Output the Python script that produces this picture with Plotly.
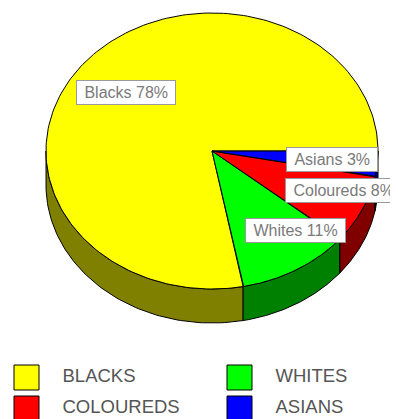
import numpy as np
import plotly.graph_objects as go

# ---- data ----
categories = ["Blacks", "Whites", "Coloureds", "Asians"]
values = [78, 11, 8, 3]
legend_labels = ["BLACKS", "WHITES", "COLOUREDS", "ASIANS"]

# ---- style ----
top_colors = ["#FFFF00", "#00FF00", "#FF0000", "#0000FF"]
side_colors = ["#808000", "#008000", "#800000", "#000080"]
W, H = 398, 419
OFF = 8  # default page body margin
CX, CY, RX, RY, DEPTH = 212, 151, 166, 138, 34
LABEL_R = 0.67
label_xshift = [0, 27, 31, 9]
FONT = "Liberation Sans, Arial, sans-serif"


def pt(a, dy=0.0):
    r = np.radians(a)
    return CX + RX * np.cos(r), CY - RY * np.sin(r) + dy


fig = go.Figure()
total = sum(values)
bounds = np.concatenate([[0], np.cumsum(values) / total * 360.0])

# rims (front half only)
for i in range(len(values)):
    lo, hi = max(bounds[i], 180), min(bounds[i + 1], 360)
    if hi <= lo:
        continue
    ang = np.linspace(lo, hi, 80)
    xt, yt = pt(ang)
    xb, yb = pt(ang[::-1], DEPTH)
    xs = np.concatenate([xt, xb, xt[:1]])
    ys = np.concatenate([yt, yb, yt[:1]])
    fig.add_trace(go.Scatter(x=xs, y=ys, mode="lines", fill="toself",
                             fillcolor=side_colors[i],
                             line=dict(color="black", width=1),
                             hoverinfo="skip", showlegend=False))

# top faces
for i in range(len(values)):
    ang = np.linspace(bounds[i], bounds[i + 1], 200)
    xa, ya = pt(ang)
    xs = np.concatenate([[CX], xa, [CX]])
    ys = np.concatenate([[CY], ya, [CY]])
    fig.add_trace(go.Scatter(x=xs, y=ys, mode="lines", fill="toself",
                             fillcolor=top_colors[i],
                             line=dict(color="black", width=1),
                             hoverinfo="skip", showlegend=False))

# slice labels
for i, (c, v) in enumerate(zip(categories, values)):
    mid = (bounds[i] + bounds[i + 1]) / 2
    r = np.radians(mid)
    lx = CX + LABEL_R * RX * np.cos(r)
    ly = CY - LABEL_R * RY * np.sin(r)
    fig.add_annotation(x=lx, y=ly, xref="x", yref="y", showarrow=False,
                       text=f"\u00a0{c} {v}%\u00a0", xshift=label_xshift[i],
                       font=dict(family=FONT, size=16, color="#7a7a7a"),
                       bgcolor="white", bordercolor="#9a9a9a", borderwidth=1,
                       borderpad=3)

# legend (custom grid)
n = len(categories)
col = np.arange(n) % 2
row = np.arange(n) // 2
lx = 26.5 + col * 213
ly = 377.5 + row * 31
fig.add_trace(go.Scatter(x=lx, y=ly, mode="markers",
                         marker=dict(symbol="square", size=25, color=top_colors,
                                     line=dict(color="black", width=1)),
                         hoverinfo="skip", showlegend=False))
fig.add_trace(go.Scatter(x=lx + 36, y=ly, mode="text", text=legend_labels,
                         textposition="middle right",
                         textfont=dict(family=FONT, size=18.5, color="#555555"),
                         hoverinfo="skip", showlegend=False))

fig.update_layout(width=W - OFF, height=H - OFF, autosize=False,
                  margin=dict(l=0, r=0, t=0, b=0),
                  paper_bgcolor="white", plot_bgcolor="white",
                  xaxis=dict(range=[OFF, W], visible=False, fixedrange=True),
                  yaxis=dict(range=[H, OFF], visible=False, fixedrange=True),
                  showlegend=False)
fig.write_html("out.html")
